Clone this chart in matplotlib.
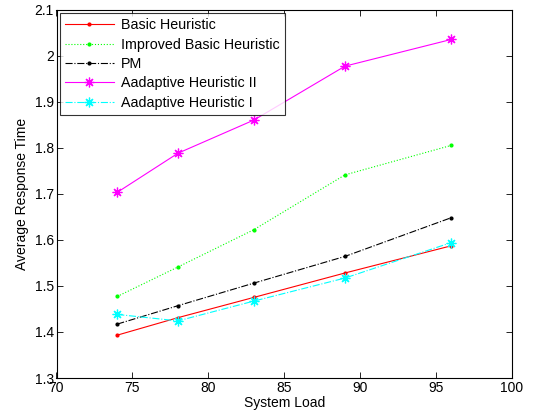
import matplotlib
matplotlib.use("Agg")
import matplotlib.pyplot as plt

plt.rcParams['font.family'] = ['Liberation Sans', 'DejaVu Sans']

system_load = [74, 78, 83, 89, 96]
basic = [1.393, 1.431, 1.475, 1.528, 1.587]
improved = [1.477, 1.541, 1.622, 1.741, 1.805]
pm = [1.417, 1.457, 1.506, 1.564, 1.648]
adaptive_2 = [1.703, 1.788, 1.860, 1.977, 2.035]
adaptive_1 = [1.438, 1.424, 1.467, 1.517, 1.594]

labels = ["Basic Heuristic", "Improved Basic Heuristic", "PM",
          "Aadaptive Heuristic II", "Aadaptive Heuristic I"]

fig = plt.figure(figsize=(5.37, 4.18), dpi=100)
ax = fig.add_axes([56.5 / 537, 1 - 378 / 418, (512 - 56.5) / 537, (378 - 9.5) / 418])

lw = 0.8
asterisk = (8, 2, 0)
ax.plot(system_load, basic, color=(1, 0, 0), linestyle='-', marker='.', markersize=4, lw=lw, label=labels[0])
ax.plot(system_load, improved, color=(0, 1, 0), linestyle=':', marker='.', markersize=4, lw=lw, label=labels[1])
ax.plot(system_load, pm, color='black', linestyle='-.', marker='.', markersize=4, lw=lw, label=labels[2])
ax.plot(system_load, adaptive_2, color=(1, 0, 1), linestyle='-', marker=asterisk, markersize=7,
        markeredgewidth=0.9, lw=lw, label=labels[3])
ax.plot(system_load, adaptive_1, color=(0, 1, 1), linestyle='-.', marker=asterisk, markersize=7,
        markeredgewidth=0.9, lw=lw, label=labels[4])

ax.set_xlim(70, 100)
ax.set_ylim(1.3, 2.1)
ax.set_xticks([70, 75, 80, 85, 90, 95, 100])
ax.set_yticks([1.3, 1.4, 1.5, 1.6, 1.7, 1.8, 1.9, 2.0, 2.1])
ax.set_yticklabels(['1.3', '1.4', '1.5', '1.6', '1.7', '1.8', '1.9', '2', '2.1'])
ax.tick_params(direction='in', top=True, right=True, length=4, width=0.6, labelsize=10, pad=2)
for s in ax.spines.values():
    s.set_linewidth(0.8)

ax.set_xlabel("System Load", fontsize=10, labelpad=1)
ax.set_ylabel("Average Response Time", fontsize=10, labelpad=4)

leg = ax.legend(loc='upper left', fontsize=10.3, frameon=True, fancybox=False,
                borderaxespad=0.25, handlelength=3.4, labelspacing=0.38,
                borderpad=0.35, handletextpad=0.5, markerscale=1.0)
leg.get_frame().set_edgecolor('black')
leg.get_frame().set_linewidth(0.8)

fig.savefig("out.png", dpi=100)
